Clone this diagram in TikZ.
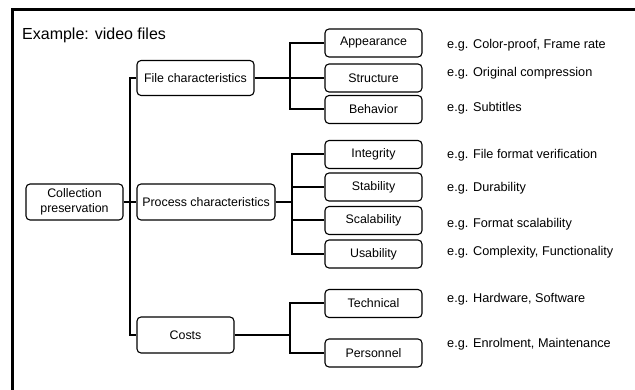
\documentclass[tikz,border=0pt]{standalone}
\usepackage{fontspec}
\setmainfont{Liberation Sans}
\begin{document}
\begin{tikzpicture}[x=1pt,y=-1pt,
  box/.style={draw, line width=1.1pt, rounded corners=4pt, inner sep=0pt,
    align=center, font=\fontsize{12.4}{16}\selectfont},
  leaf/.style={box, minimum width=97pt, minimum height=28pt},
  note/.style={anchor=west, inner sep=0pt, font=\fontsize{12.7}{15}\selectfont},
  link/.style={line width=2pt},
  frame/.style={line width=3pt}]
\useasboundingbox (0,0) rectangle (635,390);

% partial frame (top and left edges)
\coordinate (ftr) at (635,10);
\coordinate (ftl) at (12,10);
\coordinate (fbl) at (12,390);
\draw[frame] (ftr) -- (ftl) -- (fbl);

\node[anchor=west, inner sep=0pt, font=\fontsize{16}{18}\selectfont] (title) at (22,35) {Example: video files};

% root and main branches
\node[box, minimum width=97pt, minimum height=36pt] (cp) at (74.5,202) {Collection\\[-1pt]preservation};
\node[box, minimum width=117pt, minimum height=35pt] (fc) at (195.5,78) {File characteristics};
\node[box, minimum width=138pt, minimum height=36pt] (pc) at (206,202) {Process characteristics};
\node[box, minimum width=97pt, minimum height=36pt] (co) at (185.5,335) {Costs};

% leaves
\node[leaf] (app) at (373.5,43) {Appearance};
\node[leaf] (str) at (373.5,78) {Structure};
\node[leaf] (beh) at (373.5,109.5) {Behavior};
\node[leaf] (int) at (373.5,154.5) {Integrity};
\node[leaf] (sta) at (373.5,187) {Stability};
\node[leaf] (sca) at (373.5,220.5) {Scalability};
\node[leaf] (usa) at (373.5,254) {Usability};
\node[leaf] (tec) at (373.5,303.5) {Technical};
\node[leaf] (per) at (373.5,353) {Personnel};

% examples
\node[note] (nApp) at (447,45) {e.g. Color-proof, Frame rate};
\node[note] (nStr) at (447,73) {e.g. Original compression};
\node[note] (nBeh) at (447,108) {e.g. Subtitles};
\node[note] (nInt) at (447,155) {e.g. File format verification};
\node[note] (nSta) at (447,188) {e.g. Durability};
\node[note] (nSca) at (447,224) {e.g. Format scalability};
\node[note] (nUsa) at (447,252) {e.g. Complexity, Functionality};
\node[note] (nTec) at (447,299) {e.g. Hardware, Software};
\node[note] (nPer) at (447,344) {e.g. Enrolment, Maintenance};

% junctions
\coordinate (j0) at (130,202);
\coordinate (j1) at (290,78);
\coordinate (j2) at (292,202);
\coordinate (j3) at (290,335);

% connectors
\draw[link] (cp.east) -- (j0);
\draw[link] (j0) |- (fc.west);
\draw[link] (j0) |- (co.west);
\draw[link] (j0) -- (pc.west);

\draw[link] (fc.east) -- (j1);
\draw[link] (j1) |- (app.west);
\draw[link] (j1) |- (beh.west);
\draw[link] (j1) -- (str.west);

\draw[link] (pc.east) -- (j2);
\draw[link] (j2) |- (int.west);
\draw[link] (j2) |- (sta.west);
\draw[link] (j2) |- (sca.west);
\draw[link] (j2) |- (usa.west);

\draw[link] (co.east) -- (j3);
\draw[link] (j3) |- (tec.west);
\draw[link] (j3) |- (per.west);
\end{tikzpicture}
\end{document}
